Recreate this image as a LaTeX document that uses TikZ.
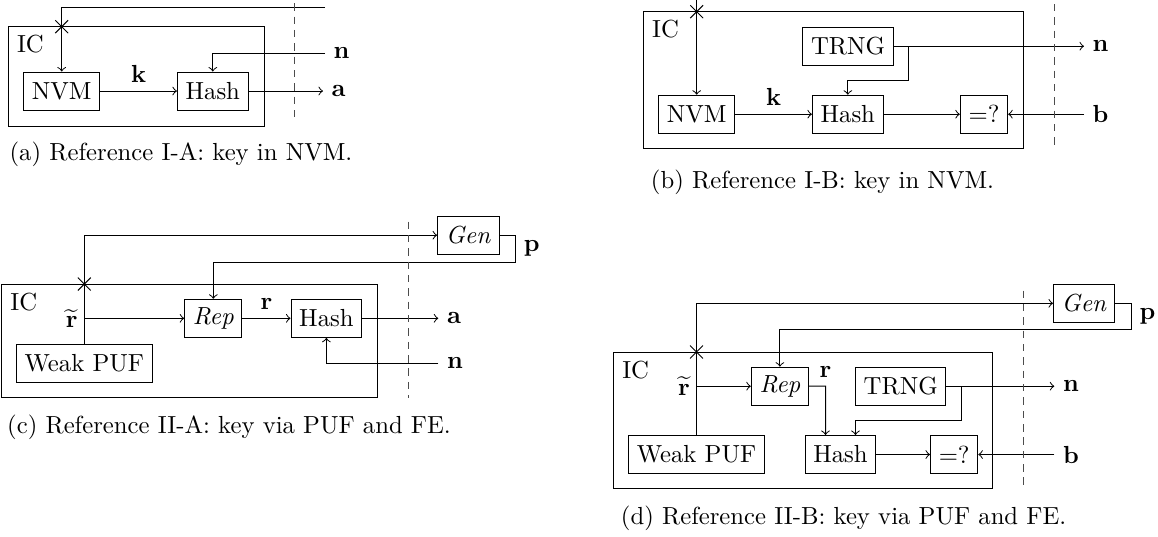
\documentclass[tikz,border=0pt]{standalone}
\usetikzlibrary{shapes.misc}
\begin{document}
\begin{tikzpicture}[x=0.40486pt,y=-0.40486pt,
  blk/.style={draw, minimum height=15.4pt, inner sep=3.33pt},
  lbl/.style={inner sep=3.33pt},
  xmark/.style={cross out, draw, minimum size=4.8pt, inner sep=0pt},
  dline/.style={dash pattern=on 3pt off 2.4pt, draw=black!70},
  captxt/.style={inner sep=0pt}
]
\useasboundingbox (0,0) rectangle (1158,536);

% ---------------- (a) ----------------
\coordinate (a-ic1) at (8.3,26.7);
\coordinate (a-ic2) at (264,126);
\draw (a-ic1) rectangle (a-ic2);
\node[lbl, anchor=north west] (a-iclbl) at (a-ic1) {IC};
\node[blk] (a-nvm) at (61.7,91) {NVM};
\node[blk] (a-hash) at (212.8,91) {Hash};
\coordinate (a-top) at (325,7.3);
\draw[->] (a-top) -| (a-nvm.north);
\node[xmark] (a-x) at (a-nvm.north |- a-ic1) {};
\draw[->] (a-nvm) -- node[lbl, above] (a-k) {$\mathbf{k}$} (a-hash);
\coordinate (a-n) at (325,53.3);
\draw[->] (a-n) -| (a-hash.north);
\node[lbl, right] (a-nl) at (a-n) {$\mathbf{n}$};
\coordinate (a-aend) at (323,91);
\draw[->] (a-hash) -- (a-aend);
\node[lbl, right] (a-al) at (a-aend) {$\mathbf{a}$};
\coordinate (a-d1) at (294,3.3);
\coordinate (a-d2) at (294,122);
\draw[dline] (a-d1) -- (a-d2);
\node[captxt] (a-cap) at (181,154) {(a) Reference I-A: key in NVM.};

% ---------------- (b) ----------------
\coordinate (b-ic1) at (643.4,11.7);
\coordinate (b-ic2) at (1023,148.3);
\draw (b-ic1) rectangle (b-ic2);
\node[lbl, anchor=north west] (b-iclbl) at (b-ic1) {IC};
\node[blk] (b-nvm) at (696.7,114.2) {NVM};
\node[blk] (b-hash) at (847.8,114.2) {Hash};
\node[blk] (b-eq) at (984,114.2) {=?};
\node[blk] (b-trng) at (848.1,46.2) {TRNG};
\coordinate (b-top) at (696.7,0);
\draw[->] (b-top) -- (b-nvm.north);
\node[xmark] (b-x) at (b-nvm.north |- b-ic1) {};
\draw[->] (b-nvm) -- node[lbl, above] (b-k) {$\mathbf{k}$} (b-hash);
\draw[->] (b-hash) -- (b-eq);
\coordinate (b-nend) at (1084,46.2);
\draw[->] (b-trng) -- (b-nend);
\node[lbl, right] (b-nl) at (b-nend) {$\mathbf{n}$};
\coordinate (b-br1) at (908,46.2);
\coordinate (b-br2) at (908,80);
\draw[->] (b-br1) -- (b-br2) -| (b-hash.north);
\coordinate (b-bend) at (1084,114.2);
\draw[->] (b-bend) -- (b-eq);
\node[lbl, right] (b-bl) at (b-bend) {$\mathbf{b}$};
\coordinate (b-d1) at (1054,4);
\coordinate (b-d2) at (1054,148.3);
\draw[dline] (b-d1) -- (b-d2);
\node[captxt] (b-cap) at (822.5,182) {(b) Reference I-B: key in NVM.};

% ---------------- (c) ----------------
\coordinate (c-ic1) at (1.7,284);
\coordinate (c-ic2) at (377.3,397.7);
\draw (c-ic1) rectangle (c-ic2);
\node[lbl, anchor=north west] (c-iclbl) at (c-ic1) {IC};
\node[blk] (c-puf) at (84.3,363.5) {Weak PUF};
\node[blk] (c-rep) at (213.3,318.3) {\textit{Rep}};
\node[blk] (c-hash) at (326.4,318.3) {Hash};
\node[blk] (c-gen) at (468.3,235.2) {\textit{Gen}};
\draw[->] (c-puf.north) |- (c-gen.west);
\node[xmark] (c-x) at (c-puf.north |- c-ic1) {};
\coordinate (c-rj) at (84.3,318.3);
\draw[->] (c-rj) -- (c-rep);
\node[lbl, left, inner sep=2.5pt] (c-rt) at (c-rj) {$\widetilde{\mathbf{r}}$};
\draw[->] (c-rep) -- node[lbl, above] (c-r) {$\mathbf{r}$} (c-hash);
\coordinate (c-aend) at (438.3,318.3);
\draw[->] (c-hash) -- (c-aend);
\node[lbl, right] (c-al) at (c-aend) {$\mathbf{a}$};
\coordinate (c-n) at (438.3,363.3);
\draw[->] (c-n) -| (c-hash.south);
\node[lbl, right] (c-nl) at (c-n) {$\mathbf{n}$};
\coordinate (c-p1) at (515.2,235.2);
\coordinate (c-p2) at (515.2,262.3);
\coordinate (c-pm) at (515.2,248.7);
\draw[->] (c-gen.east) -- (c-p1) -- (c-p2) -| (c-rep.north);
\node[lbl, right] (c-pl) at (c-pm) {$\mathbf{p}$};
\coordinate (c-d1) at (408,221.7);
\coordinate (c-d2) at (408,397.7);
\draw[dline] (c-d1) -- (c-d2);
\node[captxt] (c-cap) at (229,427) {(c) Reference II-A: key via PUF and FE.};

% ---------------- (d) ----------------
\coordinate (d-ic1) at (613.6,352);
\coordinate (d-ic2) at (992.9,488.3);
\draw (d-ic1) rectangle (d-ic2);
\node[lbl, anchor=north west] (d-iclbl) at (d-ic1) {IC};
\node[blk] (d-puf) at (696.5,454.5) {Weak PUF};
\node[blk] (d-rep) at (779.9,386.2) {\textit{Rep}};
\node[blk] (d-trng) at (900.7,386.2) {TRNG};
\node[blk] (d-hash) at (840.5,454.5) {Hash};
\node[blk] (d-eq) at (954.2,454.5) {=?};
\node[blk] (d-gen) at (1084.2,303.3) {\textit{Gen}};
\draw[->] (d-puf.north) |- (d-gen.west);
\node[xmark] (d-x) at (d-puf.north |- d-ic1) {};
\coordinate (d-rj) at (696.5,386.2);
\draw[->] (d-rj) -- (d-rep);
\node[lbl, left, inner sep=2.5pt] (d-rt) at (d-rj) {$\widetilde{\mathbf{r}}$};
\coordinate (d-rc) at (825.5,386.2);
\draw[->] (d-rep) -- (d-rc) -- ([xshift=-6.07pt]d-hash.north);
\node[lbl, above] (d-r) at (d-rc) {$\mathbf{r}$};
\coordinate (d-nend) at (1054.3,386.2);
\draw[->] (d-trng) -- (d-nend);
\node[lbl, right] (d-nl) at (d-nend) {$\mathbf{n}$};
\coordinate (d-br1) at (961.5,386.2);
\coordinate (d-br2) at (961.5,420);
\draw[->] (d-br1) -- (d-br2) -| ([xshift=6.07pt]d-hash.north);
\draw[->] (d-hash) -- (d-eq);
\coordinate (d-bend) at (1054.3,454.5);
\draw[->] (d-bend) -- (d-eq);
\node[lbl, right] (d-bl) at (d-bend) {$\mathbf{b}$};
\coordinate (d-p1) at (1131,303.3);
\coordinate (d-p2) at (1131,329.3);
\coordinate (d-pm) at (1131,316.3);
\draw[->] (d-gen.east) -- (d-p1) -- (d-p2) -| (d-rep.north);
\node[lbl, right] (d-pl) at (d-pm) {$\mathbf{p}$};
\coordinate (d-d1) at (1023.3,290.7);
\coordinate (d-d2) at (1023.3,488.3);
\draw[dline] (d-d1) -- (d-d2);
\node[captxt] (d-cap) at (843.6,518) {(d) Reference II-B: key via PUF and FE.};
\end{tikzpicture}
\end{document}
